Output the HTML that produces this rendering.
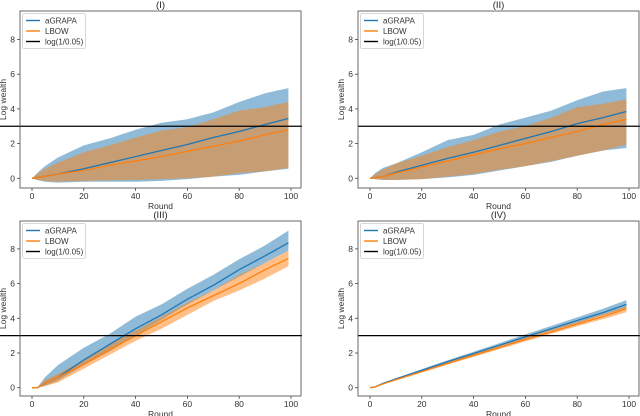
<!DOCTYPE html>
<html><head><meta charset="utf-8"><style>
body{margin:0;background:#fff;}
svg{display:block;font-family:"Liberation Sans","DejaVu Sans",sans-serif;}
</style></head><body>
<svg id="fig" width="640" height="416" viewBox="0 0 640 416" xmlns="http://www.w3.org/2000/svg"></svg>
<script>
const X = [0,2,5,10,20,30,40,50,60,70,80,90,99];
const xTicks = [0,20,40,60,80,100];
const yTicks = [0,2,4,6,8];
const titles = ["(I)","(II)","(III)","(IV)"];
const threshold = 3.0;
// Panel I
const p1aMean = [0,0.05,0.12,0.25,0.55,0.9,1.25,1.6,1.95,2.35,2.7,3.1,3.45];
const p1aUp   = [0,0.3,0.7,1.2,1.9,2.3,2.8,3.2,3.4,3.8,4.4,4.9,5.2];
const p1aLo   = [0,-0.1,-0.2,-0.25,-0.2,-0.2,-0.2,-0.15,-0.05,0.1,0.2,0.4,0.55];
const p1bMean = [0,0.05,0.12,0.25,0.45,0.75,1.0,1.25,1.55,1.85,2.15,2.5,2.8];
const p1bUp   = [0,0.25,0.55,0.9,1.5,1.9,2.35,2.75,2.95,3.4,3.9,4.1,4.4];
const p1bLo   = [0,-0.1,-0.15,-0.2,-0.15,-0.12,-0.1,-0.05,0,0.1,0.3,0.4,0.6];
// Panel II
const p2aMean = [0,0.04,0.1,0.35,0.75,1.15,1.5,1.9,2.3,2.7,3.15,3.5,3.85];
const p2aUp   = [0,0.3,0.6,0.85,1.5,2.2,2.5,3.1,3.5,3.9,4.5,5.0,5.2];
const p2aLo   = [0,-0.05,-0.1,-0.1,-0.05,0.05,0.2,0.45,0.7,0.95,1.3,1.6,1.75];
const p2bMean = [0,0.04,0.1,0.3,0.65,1.0,1.35,1.7,2.0,2.35,2.7,3.1,3.4];
const p2bUp   = [0,0.25,0.5,0.85,1.3,1.8,2.2,2.7,3.0,3.5,4.1,4.3,4.55];
const p2bLo   = [0,-0.05,-0.1,-0.1,-0.05,0.1,0.25,0.5,0.7,1.0,1.3,1.6,1.95];
// Panel III
const p3aMean = [0,0,0.25,0.6,1.6,2.5,3.4,4.2,5.1,5.9,6.8,7.6,8.35];
const p3aUp   = [0,0,0.6,1.3,2.3,3.1,4.1,4.8,5.7,6.5,7.4,8.2,9.05];
const p3aLo   = [0,0,0.1,0.4,1.3,2.1,3.0,3.9,4.8,5.6,6.4,7.2,7.9];
const p3bMean = [0,0,0.25,0.6,1.35,2.2,3.0,3.8,4.6,5.3,6.0,6.8,7.45];
const p3bUp   = [0,0,0.45,0.8,1.6,2.5,3.3,4.1,4.9,5.6,6.5,7.2,7.9];
const p3bLo   = [0,0,0.1,0.3,1.1,1.9,2.7,3.4,4.2,5.0,5.6,6.3,7.0];
// Panel IV
const p4aMean = [0,0.05,0.25,0.5,1.0,1.5,1.97,2.45,2.93,3.4,3.87,4.33,4.8];
const p4aUp   = [0,0.07,0.28,0.55,1.07,1.58,2.07,2.57,3.07,3.56,4.05,4.55,5.05];
const p4aLo   = [0,0.04,0.22,0.46,0.94,1.42,1.88,2.35,2.82,3.28,3.72,4.18,4.6];
const p4bMean = [0,0.04,0.22,0.46,0.93,1.4,1.86,2.32,2.78,3.22,3.67,4.1,4.55];
const p4bUp   = [0,0.06,0.25,0.5,0.99,1.47,1.95,2.42,2.89,3.35,3.8,4.25,4.7];
const p4bLo   = [0,0.03,0.2,0.42,0.87,1.33,1.78,2.22,2.67,3.1,3.54,3.95,4.35];

const panels = [
 {a:[p1aMean,p1aUp,p1aLo], b:[p1bMean,p1bUp,p1bLo], L:20, R:301, T:11, B:188, y0:178.3, lineX0:0},
 {a:[p2aMean,p2aUp,p2aLo], b:[p2bMean,p2bUp,p2bLo], L:358, R:639, T:11, B:188, y0:178.3, lineX0:358},
 {a:[p3aMean,p3aUp,p3aLo], b:[p3bMean,p3bUp,p3bLo], L:20, R:301, T:221, B:396, y0:387.7, lineX0:0},
 {a:[p4aMean,p4aUp,p4aLo], b:[p4bMean,p4bUp,p4bLo], L:358, R:639, T:221, B:396, y0:387.7, lineX0:358},
];
const NS="http://www.w3.org/2000/svg";
const svg=document.getElementById('fig');
function mk(tag,attrs,parent){const e=document.createElementNS(NS,tag);for(const k in attrs)e.setAttribute(k,attrs[k]);(parent||svg).appendChild(e);return e;}
panels.forEach((p,i)=>{
  const g=mk('g',{});
  
  
  const x0=p.L+12, x100=p.R-10;
  const sx=v=>x0+(x100-x0)*v/100;
  const sy=v=>p.y0-17.35*v;
  function band(up,lo,color,name){
    let d='M'+X.map((x,k)=>sx(x)+','+sy(up[k])).join(' L');
    for(let k=X.length-1;k>=0;k--) d+=' L'+sx(X[k])+','+sy(lo[k]);
    const e=mk('path',{d:d+'Z',fill:color,'fill-opacity':0.5,stroke:'none'},g);
    
    
  }
  function line(m,color,name){
    const e=mk('polyline',{points:X.map((x,k)=>sx(x)+','+sy(m[k])).join(' '),fill:'none',stroke:color,'stroke-width':1.3},g);
    
    
  }
  band(p.a[1],p.a[2],'#1f77b4','agrapa-band');
  band(p.b[1],p.b[2],'#ff7f0e','lbow-band');
  line(p.a[0],'#1f77b4','agrapa-line');
  line(p.b[0],'#ff7f0e','lbow-line');
  const th=mk('line',{x1:p.lineX0,x2:p.R+1,y1:sy(threshold),y2:sy(threshold),stroke:'#000','stroke-width':1.3},g);
  
  
  const fr=mk('rect',{x:p.L,y:p.T,width:p.R-p.L,height:p.B-p.T,fill:'none',stroke:'#444','stroke-width':0.8},g);
  
  
  xTicks.forEach(t=>{
    mk('line',{x1:sx(t),x2:sx(t),y1:p.B,y2:p.B+3,stroke:'#444','stroke-width':0.8},g);
    const tx=mk('text',{x:sx(t),y:p.B+11,'font-size':8.5,fill:'#333','text-anchor':'middle'},g);
    tx.textContent=t;
    
    
  });
  yTicks.forEach(t=>{
    mk('line',{x1:p.L-3,x2:p.L,y1:sy(t),y2:sy(t),stroke:'#444','stroke-width':0.8},g);
    const tx=mk('text',{x:p.L-5,y:sy(t)+3,'font-size':8.5,fill:'#333','text-anchor':'end'},g);
    tx.textContent=t;
    
    
  });
  const xl=mk('text',{x:(p.L+p.R)/2,y:p.B+21,'font-size':8.5,fill:'#333','text-anchor':'middle'},g);
  xl.textContent='Round';
  
  
  const yc=(p.T+p.B)/2;
  const yl=mk('text',{x:p.L-14,y:yc,'font-size':8.5,fill:'#333','text-anchor':'middle',transform:`rotate(-90 ${p.L-14} ${yc})`},g);
  yl.textContent='Log wealth';
  
  
  const tt=mk('text',{x:(p.L+p.R)/2,y:p.T-3,'font-size':9.5,fill:'#222','text-anchor':'middle'},g);
  tt.textContent=titles[i];
  
  
  const lg=mk('g',{},g);
  
  
  mk('rect',{x:p.L+2.5,y:p.T+2.5,width:63,height:35,rx:2,fill:'#fff','fill-opacity':0.85,stroke:'#ccc','stroke-width':0.8},lg);
  [['aGRAPA','#1f77b4'],['LBOW','#ff7f0e'],['log(1/0.05)','#000']].forEach((it,k)=>{
    const yy=p.T+9.5+k*10.5;
    mk('line',{x1:p.L+6,x2:p.L+20,y1:yy,y2:yy,stroke:it[1],'stroke-width':1.4},lg);
    const t=mk('text',{x:p.L+25,y:yy+3,'font-size':8,fill:'#333'},lg);
    t.textContent=it[0];
    
    
  });
});
</script>
</body></html>
